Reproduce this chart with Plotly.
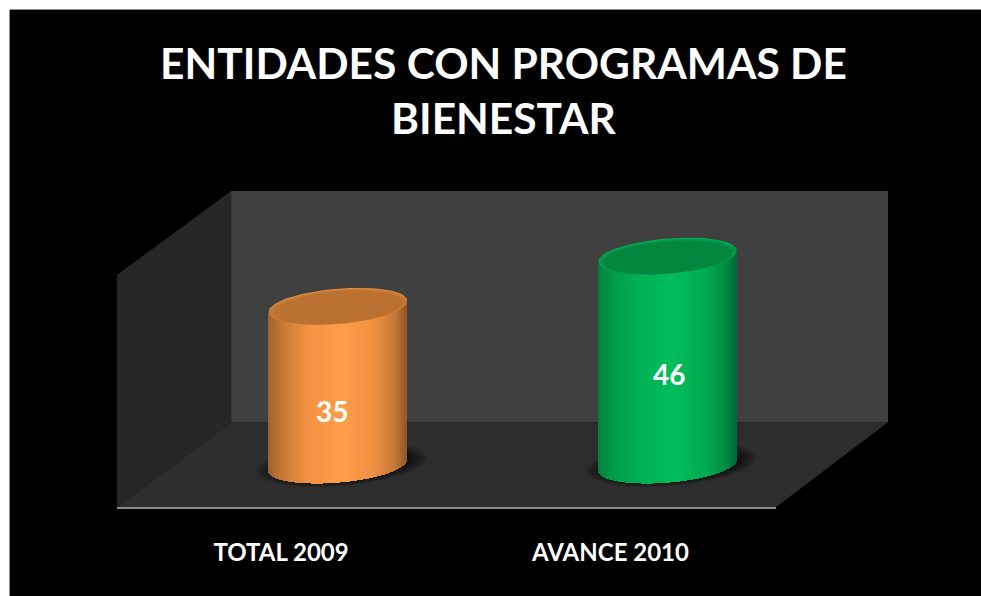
import numpy as np
import plotly.graph_objects as go

# --- data ---
categories = ["TOTAL 2009", "AVANCE 2010"]
values = [35, 46]
title_lines = ["ENTIDADES CON PROGRAMAS DE", "BIENESTAR"]

# --- page geometry (px) ---
W, H = 981, 596
PL, PR, PT, PB = 117, 888, 190, 507      # plot rectangle
PX_PER_CAT = 329.5
CAT0_PX = 281
PX_PER_VAL = 4.56
ZERO_PX = 465.5

FONT = "Lato"
STOPS = [
    [(0, (160, 98, 44)), (.12, (205, 124, 56)), (.3, (244, 148, 68)), (.55, (255, 158, 74)),
     (.78, (236, 144, 66)), (.92, (196, 120, 54)), (1, (146, 88, 38))],
    [(0, (0, 128, 60)), (.12, (0, 158, 74)), (.3, (0, 178, 84)), (.55, (0, 190, 90)),
     (.78, (0, 172, 80)), (.92, (0, 140, 66)), (1, (0, 106, 50))],
]
TOP_RIM = ["#E88F42", "#02B055"]
TOP_OUTER = ["#C67A35", "#029A4A"]
TOP_INNER = ["#B97231", "#03873F"]
BAR_OFFSET_PX = [57, 57]
BAR_W_PX = 138
LABEL_PX = [(332, 411), (669, 374)]
A, D, E = BAR_W_PX / 2, 5.5, 17.2        # tilted-ellipse half extents


def px_to_paper(px, py):
    return (px - PL) / (PR - PL), (PB - py) / (PB - PT)


def x_data(px):
    return (px - CAT0_PX) / PX_PER_CAT


def y_data(py):
    return (ZERO_PX - py) / PX_PER_VAL


def poly(points):
    return "M" + "L".join(f"{x:.3f},{y:.3f}" for x, y in points) + "Z"


def paper_poly(pts, fill, layer="below"):
    return dict(type="path", xref="paper", yref="paper", layer=layer,
                path=poly([px_to_paper(*p) for p in pts]), fillcolor=fill,
                line=dict(width=0))


def colour_at(stops, f):
    xs = [s[0] for s in stops]
    return "rgb(%d,%d,%d)" % tuple(np.interp(f, xs, [s[1][i] for s in stops]) for i in range(3))


def ellipse(cx_px, cy_val, scale=1.0, dy_px=0.0):
    t = np.linspace(0, 2 * np.pi, 90)
    xs = x_data(cx_px + scale * A * np.cos(t))
    ys = cy_val + (scale * (D * np.cos(t) - E * np.sin(t)) - dy_px) / PX_PER_VAL
    return xs, ys


def cap(xs, ys, colour):
    return go.Scatter(x=xs, y=ys, mode="lines", fill="toself", fillcolor=colour,
                      line=dict(width=0, color=colour), hoverinfo="skip", showlegend=False)


shapes = [
    paper_poly([(10, 10), (W + 5, 10), (W + 5, H + 5), (10, H + 5)], "#000000"),
    dict(type="line", xref="paper", yref="paper", layer="below",
         x0=px_to_paper(10, 0)[0], x1=px_to_paper(W + 5, 0)[0],
         y0=px_to_paper(0, 9.5)[1], y1=px_to_paper(0, 9.5)[1], line=dict(color="#8a8a8a", width=1)),
    dict(type="line", xref="paper", yref="paper", layer="below",
         x0=px_to_paper(9.5, 0)[0], x1=px_to_paper(9.5, 0)[0],
         y0=px_to_paper(0, 10)[1], y1=px_to_paper(0, H + 5)[1], line=dict(color="#8a8a8a", width=1)),
    paper_poly([(231, 191), (888, 191), (888, 422.5), (231, 422.5)], "#404040"),
    paper_poly([(117, 275), (231, 191), (231, 422.5), (117, 507)], "#272727"),
    paper_poly([(231, 422.5), (888, 422.5), (776, 507), (117, 507)], "#2D2D2D"),
    dict(type="line", xref="paper", yref="paper", layer="below",
         x0=0, x1=px_to_paper(776, 0)[0], y0=px_to_paper(0, 508)[1], y1=px_to_paper(0, 508)[1],
         line=dict(color="#8C8C8C", width=2)),
]

traces = []
annotations = []
for i, (cat, val) in enumerate(zip(categories, values)):
    cx = CAT0_PX + i * PX_PER_CAT + BAR_OFFSET_PX[i]

    # soft floor shadow, below the marks
    for s in np.linspace(1.24, 1.0, 12):
        sx, sy = ellipse(cx + 4, 0, s, dy_px=-1)
        shapes.append(dict(type="path", xref="x", yref="y", layer="below",
                           path=poly(zip(sx, sy)), fillcolor="rgba(0,0,0,0.055)",
                           line=dict(width=0)))

    # cylinder body: one narrow bar per shaded strip, all with height = value
    n = BAR_W_PX
    fr = (np.arange(n) + 0.5) / n
    cos_t = 2 * fr - 1
    sin_t = np.sqrt(1 - cos_t ** 2)
    base = (D * cos_t - E * sin_t) / PX_PER_VAL
    traces.append(go.Bar(
        x=x_data(cx - A + fr * BAR_W_PX), y=[val] * n, base=base,
        width=1.25 / PX_PER_CAT,
        marker=dict(color=[colour_at(STOPS[i], f) for f in fr], line=dict(width=0)),
        name=cat, hoverinfo="skip", showlegend=False,
    ))

    # top cap: lit lower rim, bevel, recessed inner face
    traces.append(cap(*ellipse(cx, val), TOP_RIM[i]))
    traces.append(cap(*ellipse(cx, val, 1.0, dy_px=1.0), TOP_OUTER[i]))
    traces.append(cap(*ellipse(cx, val, 0.94, dy_px=1.6), TOP_INNER[i]))

    lx, ly = LABEL_PX[i]
    annotations.append(dict(x=x_data(lx), y=y_data(ly), xref="x", yref="y",
                            text=f"<b>{val}</b>", showarrow=False,
                            font=dict(family=FONT, size=28, color="#FFFFFF")))

fig = go.Figure(traces)
fig.update_layout(
    width=W, height=H, autosize=False,
    margin=dict(l=PL, r=W - PR, t=PT, b=H - PB, pad=0),
    paper_bgcolor="#FFFFFF", plot_bgcolor="rgba(0,0,0,0)",
    barmode="overlay", bargap=0, showlegend=False,
    shapes=shapes, annotations=annotations,
    title=dict(text="<b>" + "<br>".join(title_lines) + "</b>",
               x=503.5 / W, xanchor="center", y=1 - 79 / H, yanchor="middle",
               font=dict(family=FONT, size=42.5, color="#FFFFFF")),
    xaxis=dict(range=[x_data(PL), x_data(PR)], tickmode="array", tickvals=[0, 1],
               ticktext=[f"<b>{c}</b>" for c in categories], showgrid=False, zeroline=False,
               showline=False, ticks="outside", ticklen=24, tickcolor="rgba(0,0,0,0)",
               tickfont=dict(family=FONT, size=24, color="#FFFFFF")),
    yaxis=dict(range=[y_data(PB), y_data(PT)], visible=False, showgrid=False, zeroline=False),
)
fig.write_html(
    "out.html",
    config=dict(displayModeBar=False),
    post_script="document.body.style.margin='0';document.documentElement.style.overflow='hidden';",
)
